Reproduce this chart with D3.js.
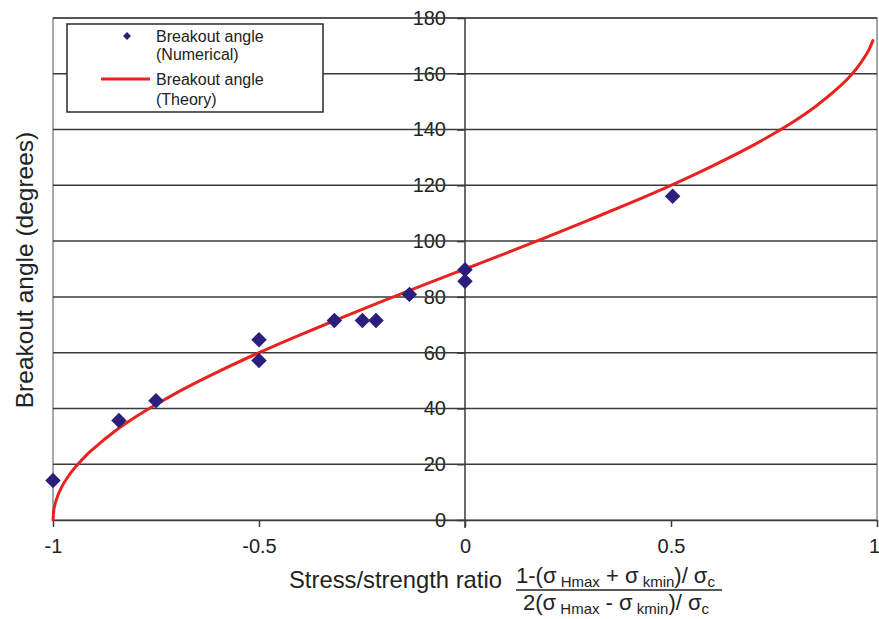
<!DOCTYPE html>
<html>
<head>
<meta charset="utf-8">
<script src="https://cdnjs.cloudflare.com/ajax/libs/d3/7.8.5/d3.min.js"></script>
<style>
  html, body { margin: 0; padding: 0; background: #fff; }
  svg { display: block; font-family: "Liberation Sans", Arial, Helvetica, sans-serif; }
</style>
</head>
<body>
<svg id="chart" width="879" height="619"></svg>
<script>
// ---- data ----
const numericalX = [-1, -0.84, -0.75, -0.5, -0.5, -0.317, -0.249, -0.216, -0.135, 0, 0, 0.504];
const numericalY = [14.2, 35.7, 42.8, 64.6, 57.2, 71.5, 71.5, 71.5, 80.9, 89.7, 85.6, 116.1];

const theoryX = [-1, -0.998, -0.995, -0.99, -0.98, -0.96, -0.94, -0.92, -0.9, -0.85, -0.8, -0.75, -0.7, -0.6, -0.5, -0.4, -0.3, -0.2, -0.1, 0, 0.1, 0.2, 0.3, 0.4, 0.5, 0.6, 0.7, 0.75, 0.8, 0.85, 0.9, 0.93, 0.95, 0.97, 0.98, 0.99];
const theoryY = [0, 3.6, 5.7, 8.1, 11.5, 16.3, 19.9, 23.1, 25.8, 31.8, 36.9, 41.4, 45.6, 53.1, 60, 66.4, 72.5, 78.5, 84.3, 90, 95.7, 101.5, 107.5, 113.6, 120, 126.9, 134.4, 138.6, 143.1, 148.2, 154.2, 158.4, 161.8, 166.0, 168.5, 171.9];

const xTicks = [-1, -0.5, 0, 0.5, 1];
const xTickLabels = ["-1", "-0.5", "0", "0.5", "1"];
const yTicks = [0, 20, 40, 60, 80, 100, 120, 140, 160, 180];

const legendLabels = [["Breakout angle", "(Numerical)"], ["Breakout angle", "(Theory)"]];
const yTitle = "Breakout angle (degrees)";
const xTitle = "Stress/strength ratio";

// ---- layout ----
const svg = d3.select("#chart");
const x = d3.scaleLinear().domain([-1, 1]).range([53, 877]);
const y = d3.scaleLinear().domain([0, 180]).range([520, 18]);

const gridColor = "#3a3a3a";
const markColor = "#2a1f7c";
const lineColor = "#e8231f";

// frame (gray)
svg.append("rect")
  .attr("x", x(-1)).attr("y", y(180))
  .attr("width", x(1) - x(-1)).attr("height", y(0) - y(180))
  .attr("fill", "none").attr("stroke", "#8a8a8a").attr("stroke-width", 1.5);

// y tick labels (left of the x=0 axis)
const yAxis = d3.axisLeft(y).tickValues(yTicks).tickSize(8).tickPadding(11).tickFormat(d3.format("d"));
const gy = svg.append("g").attr("transform", `translate(${x(0)},0)`).call(yAxis);
gy.select(".domain").remove();
gy.selectAll(".tick line").attr("stroke", gridColor).attr("stroke-width", 1.5);
gy.selectAll(".tick text").attr("font-size", 20).attr("fill", "#222")
  .attr("font-family", "Liberation Sans, Arial, sans-serif");

// horizontal gridlines
svg.append("g").selectAll("line").data(yTicks.filter(d => d > 0)).join("line")
  .attr("x1", x(-1)).attr("x2", x(1))
  .attr("y1", d => y(d)).attr("y2", d => y(d))
  .attr("stroke", gridColor).attr("stroke-width", 1.5);

// x axis ticks and labels
const xAxis = d3.axisBottom(x).tickValues(xTicks).tickSize(7).tickPadding(12)
  .tickFormat((d, i) => xTickLabels[i]);
const gx = svg.append("g").attr("transform", `translate(0,${y(0)})`).call(xAxis);
gx.select(".domain").attr("stroke", gridColor).attr("stroke-width", 1.5);
gx.selectAll(".tick line").attr("stroke", gridColor).attr("stroke-width", 1.5)
  .attr("opacity", d => (d === -1 || d === 1) ? 0 : 1);
gx.selectAll(".tick text").attr("font-size", 20).attr("fill", "#222")
  .attr("font-family", "Liberation Sans, Arial, sans-serif")
  .attr("dx", d => d === 1 ? -3 : 0);

// vertical axis line at x = 0
svg.append("line")
  .attr("x1", x(0)).attr("x2", x(0))
  .attr("y1", y(180)).attr("y2", y(0) + 8)
  .attr("stroke", gridColor).attr("stroke-width", 1.5);

// theory curve
const theory = theoryX.map((d, i) => [d, theoryY[i]]);
svg.append("path")
  .datum(theory)
  .attr("fill", "none").attr("stroke", lineColor).attr("stroke-width", 3)
  .attr("stroke-linecap", "round")
  .attr("d", d3.line().x(d => x(d[0])).y(d => y(d[1])).curve(d3.curveMonotoneX));

// numerical markers
const nums = numericalX.map((d, i) => [d, numericalY[i]]);
svg.append("g").selectAll("path").data(nums).join("path")
  .attr("transform", d => `translate(${x(d[0])},${y(d[1])}) rotate(45)`)
  .attr("d", d3.symbol().type(d3.symbolSquare).size(120))
  .attr("fill", markColor);

// legend
const lg = svg.append("g");
lg.append("rect").attr("x", 67).attr("y", 24).attr("width", 256).attr("height", 88)
  .attr("fill", "#fff").attr("stroke", "#2a2a2a").attr("stroke-width", 1.5);
lg.append("path").attr("transform", "translate(127,36) rotate(45)")
  .attr("d", d3.symbol().type(d3.symbolSquare).size(32)).attr("fill", markColor);
lg.append("line").attr("x1", 101).attr("x2", 150).attr("y1", 79).attr("y2", 79)
  .attr("stroke", lineColor).attr("stroke-width", 3);
const legY = [[42, 60], [85, 105]];
legendLabels.forEach((lines, i) => {
  lines.forEach((t, j) => {
    lg.append("text").attr("x", 156).attr("y", legY[i][j]).attr("font-size", 16)
      .attr("fill", "#222").text(t);
  });
});

// y title
svg.append("text")
  .attr("transform", `translate(33,${270}) rotate(-90)`)
  .attr("text-anchor", "middle").attr("font-size", 24.5).attr("fill", "#222")
  .text(yTitle);

// x title
svg.append("text").attr("x", 289).attr("y", 588).attr("font-size", 23.8).attr("fill", "#222").text(xTitle);

// fraction
function fracText(xPos, yPos, parts) {
  const t = svg.append("text").attr("x", xPos).attr("y", yPos).attr("fill", "#222");
  let shift = 0;
  parts.forEach(p => {
    const sub = p[1];
    const target = sub ? 4 : 0;
    t.append("tspan").attr("dy", target - shift).attr("font-size", sub ? 15 : 22).text(p[0]);
    shift = target;
  });
  return t;
}
fracText(516, 583, [["1-(σ", 0], [" Hmax", 1], [" + σ", 0], [" kmin", 1], [")/ σ", 0], ["c", 1]]);
svg.append("line").attr("x1", 516).attr("x2", 722).attr("y1", 590).attr("y2", 590)
  .attr("stroke", "#222").attr("stroke-width", 1.5);
fracText(523, 610, [["2(σ", 0], [" Hmax", 1], [" - σ", 0], [" kmin", 1], [")/ σ", 0], ["c", 1]]);
</script>
</body>
</html>
